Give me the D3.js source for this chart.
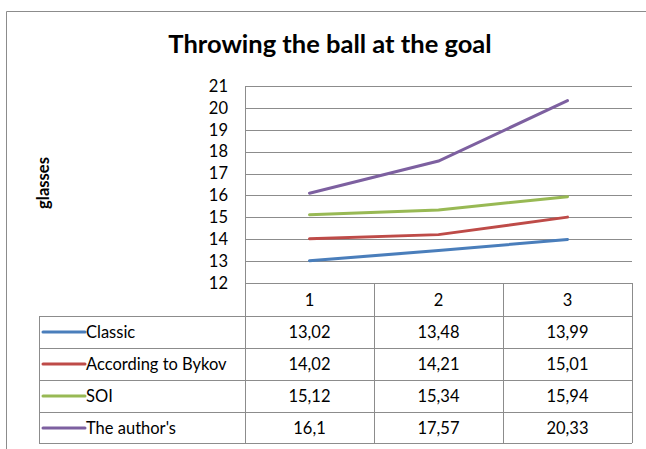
<!DOCTYPE html>
<html><head><meta charset="utf-8">
<script src="https://cdn.jsdelivr.net/npm/d3@7"></script>
<style>body{margin:0;background:#fff;} svg{display:block;}</style>
</head><body>
<script>
const categories = ["1", "2", "3"];
const seriesNames = ["Classic", "According to Bykov", "SOI", "The author's"];
const classic = [13.02, 13.48, 13.99];
const bykov = [14.02, 14.21, 15.01];
const soi = [15.12, 15.34, 15.94];
const author = [16.1, 17.57, 20.33];
const seriesColors = ["#4a7ebb", "#be4b48", "#98b954", "#7d60a0"];
const yTicks = [12, 13, 14, 15, 16, 17, 18, 19, 20, 21];
const title = "Throwing the ball at the goal";
const yLabel = "glasses";

const series = [classic, bykov, soi, author];
const W = 646, H = 449;
const font = "Lato, 'Open Sans', sans-serif";
const fs = 16.5;
const svg = d3.select("body").append("svg").attr("width", W).attr("height", H);

// outer frame (partial)
svg.append("path").attr("d", `M6.5,449 V11.5 H646`).attr("fill", "none").attr("stroke", "#8c8c8c").attr("stroke-width", 1);

svg.append("text").attr("x", 330).attr("y", 53).attr("text-anchor", "middle")
  .attr("font-family", font).attr("font-weight", "bold").attr("font-size", 25.5).attr("fill", "#000").text(title);

const plotL = 245, plotR = 632, plotT = 86, plotB = 283;
const x = d3.scaleBand().domain(categories).range([plotL, plotR]);
const y = d3.scaleLinear().domain([12, 21]).range([plotB, plotT]);

// gridlines
svg.append("g").selectAll("line").data(yTicks).join("line")
  .attr("x1", plotL).attr("x2", plotR)
  .attr("y1", d => Math.round(y(d)) + 0.5).attr("y2", d => Math.round(y(d)) + 0.5)
  .attr("stroke", "#8c8c8c").attr("stroke-width", 1);
svg.append("line").attr("x1", plotL + 0.5).attr("x2", plotL + 0.5).attr("y1", plotT).attr("y2", plotB)
  .attr("stroke", "#8c8c8c");

// y axis labels
const yAxis = d3.axisLeft(y).tickValues(yTicks).tickSize(0).tickPadding(17).tickFormat(d3.format("d"));
const ga = svg.append("g").attr("transform", `translate(${plotL},0)`).call(yAxis);
ga.select(".domain").remove();
ga.selectAll("text").attr("font-family", font).attr("font-size", fs).attr("fill", "#000");

svg.append("text").attr("transform", `translate(49,183) rotate(-90)`).attr("text-anchor", "middle")
  .attr("font-family", font).attr("font-weight", "bold").attr("font-size", 16.5).attr("fill", "#000").text(yLabel);

// lines
const line = d3.line().x((d, i) => x(categories[i]) + x.bandwidth() / 2).y(d => y(d));
svg.append("g").selectAll("path").data(series).join("path")
  .attr("d", d => line(d)).attr("fill", "none")
  .attr("stroke", (d, i) => seriesColors[i]).attr("stroke-width", 3).attr("stroke-linecap", "round");

// data table
const tblL = 39, rowH = 32;
const headerT = plotB, headerB = 316;
const rowsY = seriesNames.map((s, i) => headerB + i * rowH);
const tblB = headerB + seriesNames.length * rowH - 1;
const tg = svg.append("g").attr("stroke", "#8c8c8c").attr("stroke-width", 1);
tg.append("line").attr("x1", plotL).attr("x2", plotR).attr("y1", headerT + 0.5).attr("y2", headerT + 0.5);
rowsY.concat([tblB]).forEach(yy => {
  tg.append("line").attr("x1", tblL).attr("x2", plotR).attr("y1", yy + 0.5).attr("y2", yy + 0.5);
});
tg.append("line").attr("x1", tblL + 0.5).attr("x2", tblL + 0.5).attr("y1", headerB).attr("y2", tblB);
categories.forEach(c => {
  const xx = Math.round(x(c)) + 0.5;
  tg.append("line").attr("x1", xx).attr("x2", xx).attr("y1", headerT).attr("y2", tblB);
});
tg.append("line").attr("x1", plotR + 0.5).attr("x2", plotR + 0.5).attr("y1", headerT).attr("y2", tblB);

svg.append("g").selectAll("text").data(categories).join("text")
  .attr("x", d => x(d) + x.bandwidth() / 2).attr("y", (headerT + headerB) / 2 + 6)
  .attr("text-anchor", "middle").attr("font-family", font).attr("font-size", fs).attr("fill", "#000").text(d => d);

const fmt = v => String(v).replace(".", ",");
seriesNames.forEach((name, i) => {
  const cy = rowsY[i] + rowH / 2;
  svg.append("line").attr("x1", 43).attr("x2", 85).attr("y1", cy).attr("y2", cy)
    .attr("stroke", seriesColors[i]).attr("stroke-width", 3).attr("stroke-linecap", "round");
  svg.append("text").attr("x", 86).attr("y", cy + 6).attr("font-family", font).attr("font-size", fs)
    .attr("fill", "#000").text(name);
  svg.append("g").selectAll("text").data(series[i]).join("text")
    .attr("x", (d, j) => x(categories[j]) + x.bandwidth() / 2).attr("y", cy + 6)
    .attr("text-anchor", "middle").attr("font-family", font).attr("font-size", fs).attr("fill", "#000")
    .text(d => fmt(d));
});
</script>
</body></html>
